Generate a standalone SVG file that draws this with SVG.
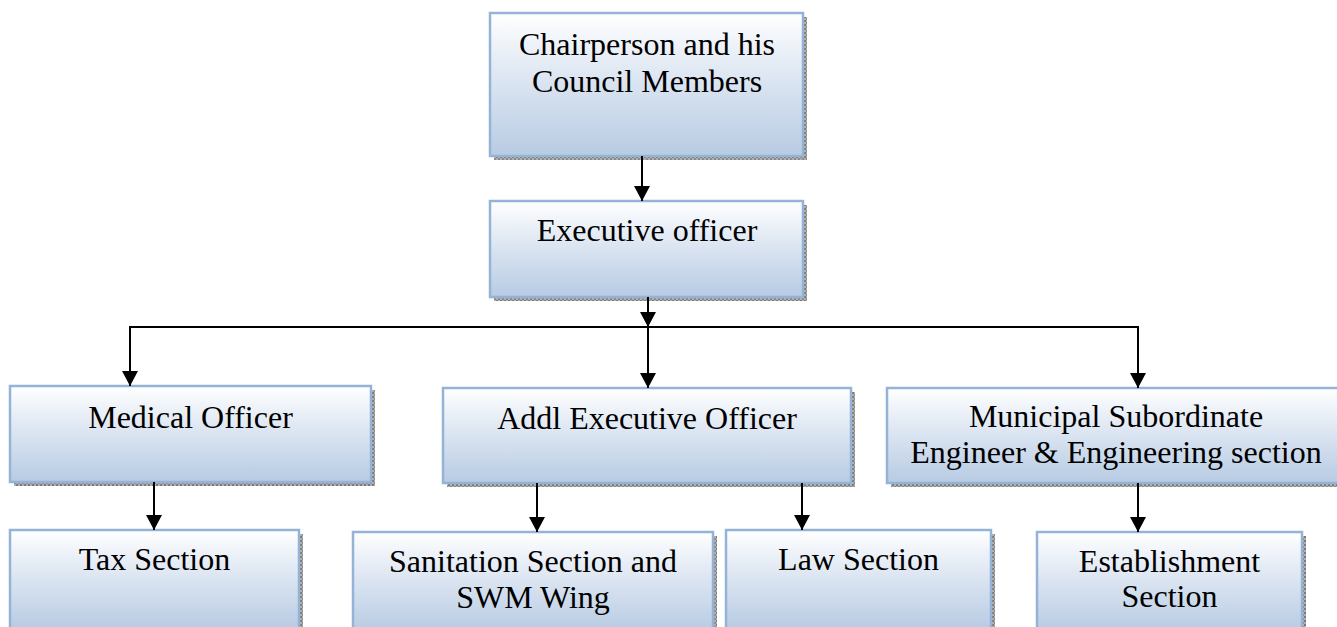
<svg xmlns="http://www.w3.org/2000/svg" width="1337" height="627" viewBox="0 0 1337 627">
<style>
.box{fill:url(#g);stroke:#95b3d7;stroke-width:2.5}
.sh{fill:url(#dots)}
.t{font-family:'Liberation Serif',Tinos,'Times New Roman','DejaVu Serif',serif;font-size:32px;fill:#000;text-anchor:middle}
.c{stroke:#000;stroke-width:2;fill:none}
.a{marker-end:url(#ah)}
</style>
<defs>
<linearGradient id="g" x1="0" y1="0" x2="0" y2="1">
<stop offset="0" stop-color="#ffffff"/>
<stop offset="0.45" stop-color="#dde6f2"/>
<stop offset="1" stop-color="#b7cbe3"/>
</linearGradient>
<pattern id="dots" width="4" height="4" patternUnits="userSpaceOnUse">
<rect width="4" height="4" fill="#b0b0b0"/>
<rect width="2" height="2" fill="#7a7a7a"/>
<rect x="2" y="2" width="2" height="2" fill="#8a8a8a"/>
</pattern>
<marker id="ah" markerUnits="userSpaceOnUse" markerWidth="16" markerHeight="16" refX="15" refY="8" orient="auto">
<path d="M0,0 L15,8 L0,16 Z" fill="#000"/>
</marker>
</defs>
<rect width="1337" height="627" fill="#fff"/>
<g id="chair">
<rect class="sh" x="494" y="17" width="313" height="143"/>
<rect class="box" x="490" y="13" width="313" height="143"/>
<text class="t" x="647" y="55">Chairperson and his</text>
<text class="t" x="647" y="92">Council Members</text>
</g>
<g id="exec">
<rect class="sh" x="494" y="205" width="313" height="96"/>
<rect class="box" x="490" y="201" width="313" height="96"/>
<text class="t" x="647" y="241">Executive officer</text>
</g>
<g id="medical">
<rect class="sh" x="14" y="390" width="361" height="96"/>
<rect class="box" x="10" y="386" width="361" height="96"/>
<text class="t" x="190.5" y="428">Medical Officer</text>
</g>
<g id="addl">
<rect class="sh" x="447" y="392" width="408" height="95"/>
<rect class="box" x="443" y="388" width="408" height="95"/>
<text class="t" x="647" y="429">Addl Executive Officer</text>
</g>
<g id="municipal">
<rect class="sh" x="891" y="392" width="458" height="95"/>
<rect class="box" x="887" y="388" width="458" height="95"/>
<text class="t" x="1116" y="427">Municipal Subordinate</text>
<text class="t" x="1116" y="463">Engineer &amp; Engineering section</text>
</g>
<g id="tax">
<rect class="sh" x="14" y="534" width="289" height="100"/>
<rect class="box" x="10" y="530" width="289" height="100"/>
<text class="t" x="154.5" y="570">Tax Section</text>
</g>
<g id="sanitation">
<rect class="sh" x="357" y="536" width="360" height="100"/>
<rect class="box" x="353" y="532" width="360" height="100"/>
<text class="t" x="533" y="572">Sanitation Section and</text>
<text class="t" x="533" y="608">SWM Wing</text>
</g>
<g id="law">
<rect class="sh" x="730" y="534" width="265" height="100"/>
<rect class="box" x="726" y="530" width="265" height="100"/>
<text class="t" x="858.5" y="570">Law Section</text>
</g>
<g id="establishment">
<rect class="sh" x="1041" y="536" width="265" height="100"/>
<rect class="box" x="1037" y="532" width="265" height="100"/>
<text class="t" x="1169.5" y="572">Establishment</text>
<text class="t" x="1169.5" y="607">Section</text>
</g>
<g id="connectors">
<line class="c a" x1="642" y1="156" x2="642" y2="201"/>
<line class="c a" x1="648" y1="297" x2="648" y2="327"/>
<line class="c" x1="129" y1="327" x2="1139" y2="327"/>
<line class="c a" x1="130" y1="326" x2="130" y2="386"/>
<line class="c a" x1="648" y1="327" x2="648" y2="388"/>
<line class="c a" x1="1138" y1="326" x2="1138" y2="388"/>
<line class="c a" x1="154" y1="482" x2="154" y2="530"/>
<line class="c a" x1="537" y1="483" x2="537" y2="532"/>
<line class="c a" x1="802" y1="483" x2="802" y2="530"/>
<line class="c a" x1="1138" y1="483" x2="1138" y2="532"/>
</g>
</svg>
